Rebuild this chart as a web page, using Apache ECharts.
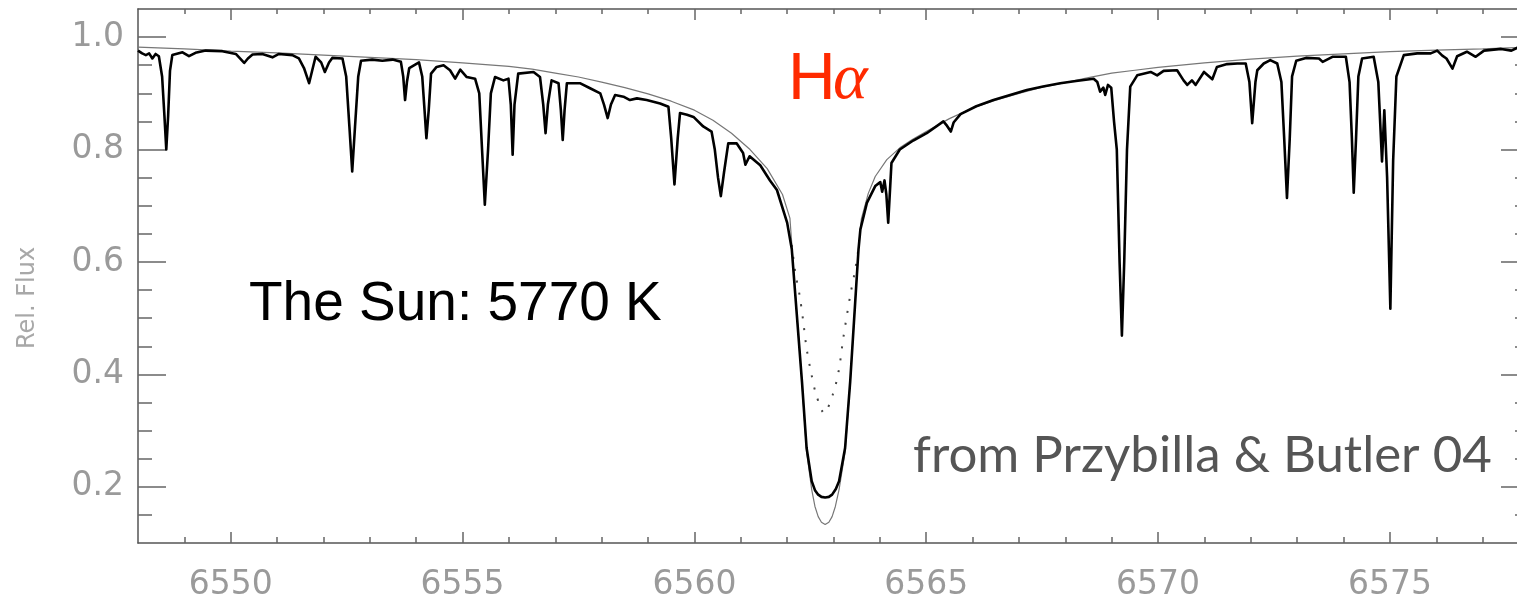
<!DOCTYPE html>
<html>
<head>
<meta charset="utf-8">
<script src="https://cdn.jsdelivr.net/npm/echarts@6/dist/echarts.min.js"></script>
<style>
html,body{margin:0;padding:0;background:#fff;overflow:hidden;}
#chart{width:1531px;height:602px;}
</style>
</head>
<body>
<div id="chart"></div>
<script>
// ---------- axis ticks ----------
const xMin = 6548, xMax = 6578;
const yMin = 0.1, yMax = 1.05;
const xMajorTicks = [6550, 6555, 6560, 6565, 6570, 6575];
const xMinorTicks = [6549, 6550, 6551, 6552, 6553, 6554, 6555, 6556, 6557, 6558, 6559, 6560, 6561, 6562, 6563,
  6564, 6565, 6566, 6567, 6568, 6569, 6570, 6571, 6572, 6573, 6574, 6575, 6576, 6577];
const yMajorTicks = [0.2, 0.4, 0.6, 0.8, 1.0];
const yMinorTicks = [0.15, 0.2, 0.25, 0.3, 0.35, 0.4, 0.45, 0.5, 0.55, 0.6, 0.65, 0.7, 0.75, 0.8, 0.85, 0.9, 0.95, 1.0];

// ---------- observed solar spectrum (thick line) ----------
const obsWave = [
  6548.00, 6548.09, 6548.17, 6548.24, 6548.31, 6548.38, 6548.45, 6548.52, 6548.57, 6548.61, 6548.65, 6548.69, 6548.74, 6548.96, 6549.10, 6549.24, 6549.46, 6549.82,
  6550.11, 6550.20, 6550.29, 6550.37, 6550.47, 6550.68, 6550.80, 6550.90, 6551.04, 6551.33, 6551.47, 6551.58, 6551.69, 6551.77, 6551.83, 6551.95, 6552.03, 6552.12, 6552.19,
  6552.41, 6552.49, 6552.56, 6552.62, 6552.68, 6552.75, 6552.81, 6553.05, 6553.27, 6553.49, 6553.67, 6553.72, 6553.76, 6553.80, 6553.85, 6554.06, 6554.13, 6554.18, 6554.22, 6554.27, 6554.32,
  6554.44, 6554.59, 6554.73, 6554.84, 6554.95, 6555.09, 6555.27, 6555.36, 6555.42, 6555.48, 6555.55, 6555.61, 6555.70, 6555.88, 6555.99, 6556.04, 6556.08, 6556.12, 6556.20,
  6556.53, 6556.67, 6556.74, 6556.79, 6556.84, 6556.92, 6557.07, 6557.12, 6557.16, 6557.20, 6557.25, 6557.53, 6557.75, 6557.97, 6558.05, 6558.13, 6558.20, 6558.29,
  6558.47, 6558.61, 6558.76, 6558.97, 6559.26, 6559.44, 6559.50, 6559.57, 6559.64, 6559.69, 6559.84, 6559.98, 6560.19, 6560.37, 6560.44, 6560.51, 6560.57, 6560.64, 6560.73, 6560.91, 6561.05, 6561.10, 6561.19,
  6561.42, 6561.63, 6561.78, 6562.00, 6562.10, 6562.21, 6562.32, 6562.42, 6562.53, 6562.60, 6562.67, 6562.74, 6562.82, 6562.90, 6562.97, 6563.05, 6563.12, 6563.25, 6563.36, 6563.45, 6563.54, 6563.58, 6563.72, 6563.90,
  6564.01, 6564.05, 6564.10, 6564.14, 6564.18, 6564.22, 6564.25, 6564.43, 6564.72, 6565.01, 6565.37, 6565.45, 6565.53, 6565.59, 6565.74, 6566.08, 6566.45, 6566.81, 6567.17, 6567.52, 6567.89, 6568.23, 6568.61,
  6568.69, 6568.75, 6568.82, 6568.86, 6568.92, 6568.99, 6569.05, 6569.11, 6569.17, 6569.22, 6569.27, 6569.33, 6569.40, 6569.55, 6569.84, 6569.98,
  6570.12, 6570.41, 6570.55, 6570.63, 6570.73, 6570.81, 6570.99, 6571.17, 6571.27, 6571.49, 6571.71, 6571.89, 6571.97, 6572.03, 6572.10, 6572.14,
  6572.28, 6572.42, 6572.57, 6572.66, 6572.72, 6572.78, 6572.84, 6572.89, 6572.98, 6573.19, 6573.47, 6573.55, 6573.76, 6574.05, 6574.13, 6574.18, 6574.22, 6574.27, 6574.32, 6574.40,
  6574.65, 6574.75, 6574.83, 6574.88, 6574.94, 6575.01, 6575.07, 6575.14, 6575.30, 6575.59, 6575.88, 6576.02, 6576.13, 6576.22, 6576.35, 6576.45, 6576.66, 6576.85, 6577.03, 6577.40, 6577.62, 6577.75, 6578.00
];
const obsFlux = [
  0.976, 0.971, 0.968, 0.971, 0.962, 0.970, 0.966, 0.930, 0.860, 0.800, 0.860, 0.940, 0.968, 0.973, 0.966, 0.972, 0.976, 0.975,
  0.970, 0.962, 0.954, 0.962, 0.969, 0.970, 0.967, 0.964, 0.970, 0.968, 0.962, 0.945, 0.918, 0.945, 0.965, 0.955, 0.938, 0.955, 0.963,
  0.962, 0.930, 0.840, 0.761, 0.840, 0.930, 0.958, 0.960, 0.958, 0.960, 0.956, 0.930, 0.888, 0.920, 0.945, 0.955, 0.930, 0.870, 0.820, 0.870, 0.935,
  0.947, 0.950, 0.941, 0.926, 0.942, 0.929, 0.926, 0.900, 0.800, 0.702, 0.800, 0.900, 0.929, 0.923, 0.926, 0.880, 0.791, 0.880, 0.935,
  0.938, 0.929, 0.880, 0.829, 0.880, 0.923, 0.918, 0.870, 0.817, 0.870, 0.918, 0.918, 0.909, 0.900, 0.880, 0.856, 0.880, 0.897,
  0.894, 0.888, 0.891, 0.888, 0.882, 0.876, 0.820, 0.738, 0.820, 0.865, 0.862, 0.858, 0.841, 0.832, 0.800, 0.750, 0.717, 0.760, 0.811, 0.811, 0.794, 0.773, 0.788,
  0.772, 0.745, 0.728, 0.670, 0.623, 0.505, 0.387, 0.269, 0.210, 0.194, 0.186, 0.182, 0.181, 0.182, 0.186, 0.196, 0.210, 0.269, 0.387, 0.505, 0.623, 0.658, 0.705, 0.735,
  0.742, 0.725, 0.745, 0.720, 0.670, 0.730, 0.776, 0.800, 0.816, 0.829, 0.850, 0.842, 0.832, 0.848, 0.863, 0.877, 0.888, 0.897, 0.906, 0.912, 0.918, 0.922, 0.926,
  0.920, 0.903, 0.910, 0.897, 0.915, 0.910, 0.850, 0.800, 0.600, 0.469, 0.600, 0.800, 0.912, 0.932, 0.938, 0.932,
  0.940, 0.941, 0.923, 0.915, 0.923, 0.915, 0.938, 0.925, 0.947, 0.952, 0.953, 0.953, 0.920, 0.847, 0.920, 0.941,
  0.953, 0.959, 0.953, 0.920, 0.820, 0.714, 0.820, 0.930, 0.958, 0.963, 0.962, 0.956, 0.965, 0.965, 0.920, 0.820, 0.723, 0.820, 0.930, 0.962,
  0.965, 0.920, 0.779, 0.870, 0.750, 0.517, 0.780, 0.930, 0.968, 0.971, 0.971, 0.976, 0.967, 0.962, 0.944, 0.966, 0.974, 0.965, 0.976, 0.979, 0.976, 0.981, 0.982
];

// ---------- model profile without metal lines (thin line) ----------
const modelWave = [
  6548.0, 6549.0, 6550.0, 6551.0, 6552.0, 6553.0, 6554.0, 6555.0, 6556.0, 6556.5, 6557.0, 6557.5, 6558.0, 6558.5, 6559.0, 6559.5,
  6560.0, 6560.4, 6560.8, 6561.2, 6561.57, 6561.9, 6562.06, 6562.21, 6562.32, 6562.42, 6562.53, 6562.60, 6562.67, 6562.74, 6562.82,
  6562.90, 6562.97, 6563.04, 6563.12, 6563.25, 6563.36, 6563.45, 6563.54, 6563.60, 6563.75, 6563.90, 6564.15, 6564.43, 6564.7, 6565.0,
  6565.5, 6566.0, 6566.5, 6567.0, 6567.5, 6568.0, 6568.5, 6569.0, 6569.5, 6570.0, 6571.0, 6572.0, 6573.0, 6574.0, 6575.0, 6576.0, 6577.0, 6578.0
];
const modelFlux = [
  0.982, 0.979, 0.975, 0.972, 0.968, 0.964, 0.960, 0.954, 0.948, 0.943, 0.936, 0.929, 0.920, 0.910, 0.899, 0.886,
  0.870, 0.852, 0.829, 0.800, 0.766, 0.720, 0.678, 0.505, 0.385, 0.262, 0.195, 0.165, 0.147, 0.137, 0.133,
  0.137, 0.147, 0.165, 0.195, 0.262, 0.385, 0.505, 0.625, 0.676, 0.722, 0.752, 0.782, 0.803, 0.818, 0.832,
  0.855, 0.874, 0.888, 0.900, 0.911, 0.919, 0.928, 0.936, 0.941, 0.946, 0.954, 0.961, 0.966, 0.970, 0.974, 0.977, 0.979, 0.982
];

// ---------- second model, line core (dotted) ----------
const coreWave = [6562.10, 6562.18, 6562.27, 6562.34, 6562.42, 6562.52, 6562.63, 6562.80, 6562.98, 6563.11, 6563.21, 6563.36, 6563.47, 6563.55];
const coreFlux = [0.630, 0.579, 0.540, 0.499, 0.446, 0.402, 0.363, 0.331, 0.363, 0.405, 0.464, 0.540, 0.587, 0.630];

// ---------- texts ----------
const yAxisTitle = 'Rel. Flux';
const lineLabelMain = 'H';
const lineLabelGreek = 'α';
const starLabel = 'The Sun: 5770 K';
const sourceLabel = 'from Przybilla & Butler 04';

const zip = (w, f) => w.map((v, i) => [v, f[i]]);

const axisLineStyle = { color: '#555', width: 1.5 };
const tickLineStyle = { color: '#666', width: 1.5 };
const labelFont = { color: '#9a9a9a', fontSize: 33, fontFamily: 'DejaVu Sans' };

function xAx(position, ticks, len, withLine, withLabels) {
  return {
    type: 'value', gridIndex: 0, min: xMin, max: xMax, position: position,
    splitLine: { show: false },
    axisLine: { show: withLine, onZero: false, lineStyle: axisLineStyle },
    axisTick: { show: true, inside: true, length: len, customValues: ticks, lineStyle: tickLineStyle },
    axisLabel: withLabels ? Object.assign({ show: true, customValues: xMajorTicks, margin: 26, formatter: v => String(Math.round(v)) }, labelFont) : { show: false }
  };
}
function yAx(position, ticks, len, withLine, withLabels) {
  return {
    type: 'value', gridIndex: 0, min: yMin, max: yMax, position: position,
    splitLine: { show: false },
    axisLine: { show: withLine, onZero: false, lineStyle: axisLineStyle },
    axisTick: { show: true, inside: true, length: len, customValues: ticks, lineStyle: tickLineStyle },
    axisLabel: withLabels ? Object.assign({ show: true, customValues: yMajorTicks, margin: 14, formatter: v => Number(v).toFixed(1) }, labelFont) : { show: false }
  };
}

const chart = echarts.init(document.getElementById('chart'), null, { renderer: 'canvas' });
chart.setOption({
  animation: false,
  backgroundColor: '#fff',
  grid: { left: 138, right: 2, top: 9, bottom: 56 },
  xAxis: [
    xAx('bottom', xMajorTicks, 11, true, true),
    xAx('bottom', xMinorTicks, 6, false, false),
    xAx('top', xMajorTicks, 11, true, false),
    xAx('top', xMinorTicks, 5, false, false)
  ],
  yAxis: [
    yAx('left', yMajorTicks, 28, true, true),
    yAx('left', yMinorTicks, 14, false, false),
    yAx('right', yMajorTicks, 28, true, false),
    yAx('right', yMinorTicks, 14, false, false)
  ],
  series: [
    { type: 'line', name: 'model', xAxisIndex: 0, yAxisIndex: 0, data: zip(modelWave, modelFlux), showSymbol: false, silent: true,
      lineStyle: { color: '#777', width: 1.2 }, z: 2 },
    { type: 'line', name: 'core model', xAxisIndex: 0, yAxisIndex: 0, data: zip(coreWave, coreFlux), showSymbol: false, silent: true, smooth: 0.3,
      lineStyle: { color: '#444', width: 2, type: [2, 10] }, z: 3 },
    { type: 'line', name: 'observed', xAxisIndex: 0, yAxisIndex: 0, data: zip(obsWave, obsFlux), showSymbol: false, silent: true,
      lineStyle: { color: '#000', width: 2.6, join: 'round' }, z: 4 }
  ],
  graphic: [
    { type: 'text', x: 28, y: 298, rotation: Math.PI / 2, silent: true,
      style: { text: yAxisTitle, fill: '#a8a8a8', font: '24px "DejaVu Sans"', align: 'center', verticalAlign: 'middle' } },
    { type: 'text', x: 788, y: 81, silent: true,
      style: { text: lineLabelMain, fill: '#ff2a00', font: '66px "Liberation Sans"', align: 'left', verticalAlign: 'middle' } },
    { type: 'text', x: 833, y: 81, silent: true,
      style: { text: lineLabelGreek, fill: '#ff2a00', font: 'italic 66px "Liberation Serif"', align: 'left', verticalAlign: 'middle' } },
    { type: 'text', x: 249, y: 305, silent: true,
      style: { text: starLabel, fill: '#000', font: '55px "Liberation Sans"', align: 'left', verticalAlign: 'middle' } },
    { type: 'text', x: 913, y: 456, silent: true,
      style: { text: sourceLabel, fill: '#555', font: '51px Lato', align: 'left', verticalAlign: 'middle' } }
  ]
});
</script>
</body>
</html>
